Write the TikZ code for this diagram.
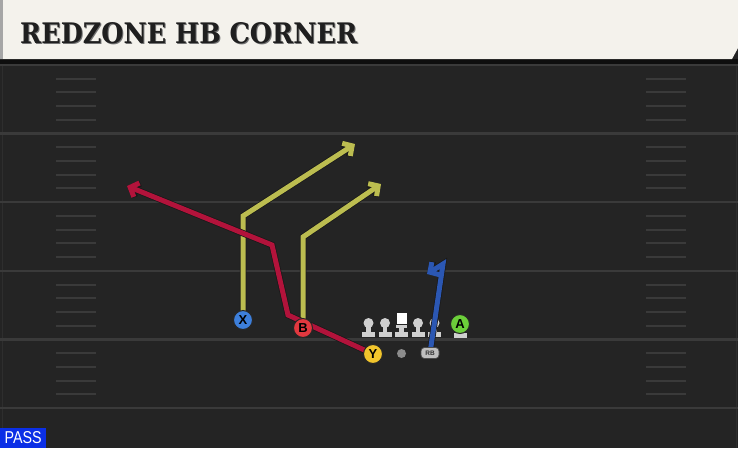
\documentclass[tikz,border=0pt]{standalone}
\usepackage{fontspec}
\newfontfamily\titlefont{DejaVu Serif}
\newfontfamily\labelfont{Liberation Sans}
\usetikzlibrary{positioning}
\usetikzlibrary{arrows.meta}
\definecolor{field}{HTML}{242424}
\definecolor{yardline}{HTML}{3A3A3A}
\definecolor{banner}{HTML}{F4F2EC}
\definecolor{cornerroute}{HTML}{BCBD50}
\definecolor{redroute}{HTML}{B2133B}
\definecolor{blueroute}{HTML}{2B57B3}
\definecolor{xblue}{HTML}{3D7FDB}
\definecolor{bred}{HTML}{E2383F}
\definecolor{yyellow}{HTML}{F2C52C}
\definecolor{agreen}{HTML}{6CCF3A}
\definecolor{linegray}{HTML}{CFCFCF}
\definecolor{passblue}{HTML}{0B2FE6}
\pgfdeclarelayer{bg}
\pgfdeclarelayer{routes}
\pgfsetlayers{bg,routes,main}

\begin{document}
\begin{tikzpicture}[x=1pt, y=-1pt, node distance=16.5pt, on grid,
      player/.style={circle, draw=black!85, line width=1pt, minimum size=19pt, inner sep=0pt,
        font=\labelfont\bfseries\fontsize{13}{13}\selectfont},
      route/.style={line width=5pt, preaction={draw=black!90, line width=6.5pt},
        -{Straight Barb[length=7pt,width=15pt]}},
      lineman/.pic={
        \fill[linegray] (-6.5,9) rectangle (6.5,14);
        \fill[linegray] (-2.2,0) rectangle (2.2,10);
        \fill[linegray] (0,0) circle (5);
      },
      snapper/.pic={
        \fill[white] (-5,-10) rectangle (5,0.5);
        \fill[linegray] (-5.5,2) rectangle (5.5,5);
        \fill[linegray] (-2.2,2) rectangle (2.2,10);
        \fill[linegray] (-6.5,9) rectangle (6.5,14);
      }]

      \useasboundingbox (0,0) rectangle (738,448);

      % field and banner
      \begin{pgfonlayer}{bg}
        \fill[field] (0,0) rectangle (738,448);
        \fill[black!60!field] (0,59) rectangle (738,64);
        \draw[black!20!yardline, line width=0.8pt] (2,64) -- (2,448);
        \draw[black!20!yardline, line width=0.8pt] (736,64) -- (736,448);
        \foreach \i in {0,...,5}
          \draw[yardline, line width=2.5pt] (0,65+68.6*\i) -- (738,65+68.6*\i);
        \foreach \i in {0,...,4}
          \foreach \k in {1,...,4} {
            \draw[yardline, line width=2pt] (56,65+68.6*\i+13.72*\k) -- (96,65+68.6*\i+13.72*\k);
            \draw[yardline, line width=2pt] (646,65+68.6*\i+13.72*\k) -- (686,65+68.6*\i+13.72*\k);
          }
        \fill[banner] (0,0) -- (738,0) -- (738,48) -- (732,59) -- (0,59) -- cycle;
        \fill[black!35] (0,0) rectangle (3,59);
      \end{pgfonlayer}

      \node[anchor=base west, inner sep=0pt, text=black!55] (shadow) at (21,44) {\resizebox{337pt}{21pt}{\titlefont\bfseries REDZONE HB CORNER}};
      \node[anchor=base west, inner sep=0pt, text=black!88] (title) at (20,43) {\resizebox{337pt}{21pt}{\titlefont\bfseries REDZONE HB CORNER}};

      % offensive line
      \node[coordinate] (c) at (401.5,323) {};
      \node[coordinate] (lg) [left=of c] {};
      \node[coordinate] (lt) [left=of lg] {};
      \node[coordinate] (rg) [right=of c] {};
      \node[coordinate] (rt) [right=of rg] {};
      \begin{pgfonlayer}{bg}
        \pic at (c) {snapper};
        \foreach \p in {lg,lt,rg,rt}
          \pic at (\p) {lineman};
      \end{pgfonlayer}

      % skill players
      \node[player, fill=agreen] (A) [right=15.5pt of rt, yshift=-1pt] {A};
      \begin{pgfonlayer}{bg}
        \pic at (A) {lineman};
      \end{pgfonlayer}
      \node[circle, fill=black!45, minimum size=9pt, inner sep=0pt] (ball) at (401.5,353.5) {};
      \node[player, fill=xblue] (X) at (243,320) {X};
      \node[player, fill=bred] (B) at (303,328) {B};
      \node[player, fill=yyellow] (Y) at (373,354) {Y};
      \node[rectangle, rounded corners=3.5pt, fill=black!25, draw=black!70, line width=0.7pt,
        minimum width=18pt, minimum height=11pt, inner sep=0pt,
        font=\labelfont\bfseries\fontsize{6.5}{6.5}\selectfont, text=black!80] (RB) at (430,353) {RB};

      % routes
      \begin{pgfonlayer}{routes}
        \draw[route, cornerroute] (X.center) -- (243,216) -- (355,144);
        \draw[route, cornerroute] (B.center) -- (303,237) -- (381,184);
        \draw[route, redroute] (Y.center) -- (288,315) -- (272,245) -- (127,186);
        \draw[route, blueroute] (RB.center) -- (443,264) -- (427,274);
      \end{pgfonlayer}

      % play type
      \node[fill=passblue, anchor=south west, minimum width=46pt, minimum height=20pt, inner sep=0pt,
        text=white] (play) at (0,448) {\resizebox{37pt}{12pt}{\labelfont PASS}};

\end{tikzpicture}
\end{document}
